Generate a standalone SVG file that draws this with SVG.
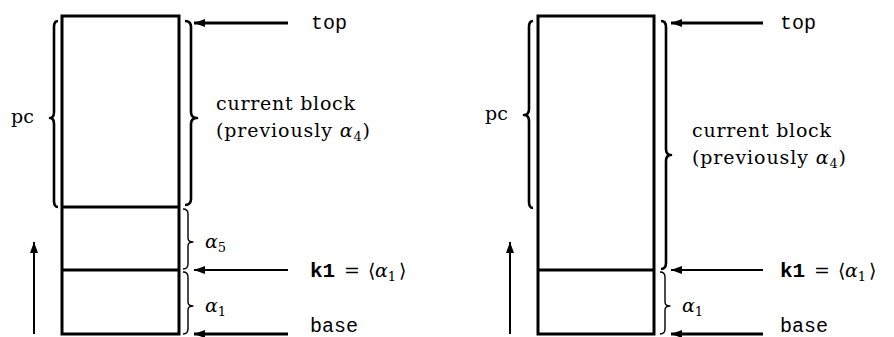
<svg xmlns="http://www.w3.org/2000/svg" width="894" height="337" viewBox="0 0 894 337">
<style>
.box{fill:none;stroke:#000;stroke-width:3}
.div{stroke:#000;stroke-width:3}
.br{fill:none;stroke:#000;stroke-width:2.6;stroke-linejoin:round}
.brs{fill:none;stroke:#000;stroke-width:1.4;stroke-linejoin:round}
.ar{stroke:#000;fill:none}
.rm{font-family:"DejaVu Serif","Liberation Serif",serif;font-size:19px;fill:#000}
.it{font-family:"DejaVu Serif","Liberation Serif",serif;font-style:italic;font-size:19px;fill:#000}
.tt{font-family:"Liberation Mono","DejaVu Sans Mono",monospace;font-size:20px;fill:#000}
.ttb{font-family:"Liberation Mono","DejaVu Sans Mono",monospace;font-size:21px;font-weight:bold;fill:#000}
.sub{font-size:13px;font-style:normal}
</style>
<defs>
<marker id="ah" markerWidth="12" markerHeight="10" refX="11" refY="5" orient="auto" markerUnits="userSpaceOnUse">
<path d="M0,1 L11,5 L0,9 Z" fill="#000"/>
</marker>
</defs>

<g id="left-stack">
<rect class="box" x="62" y="16" width="117" height="318"/>
<line class="div" x1="62" y1="207" x2="179" y2="207"/>
<line class="div" x1="62" y1="270" x2="179" y2="270"/>
</g>

<g id="left-pc">
<path class="br" d="M58,21 Q54,21 54,27 L54,112 Q54,118 50,118 Q54,118 54,124 L54,201 Q54,207 58,207"/>
<text class="rm" x="11" y="123">pc</text>
</g>

<g id="left-current">
<path class="br" d="M185,21 Q191,21 191,27 L191,112 Q191,118 197,118 Q191,118 191,124 L191,199 Q191,205 185,205"/>
<text class="rm" x="216" y="110" textLength="139">current block</text>
<text class="rm" x="216" y="137" textLength="154">(previously <tspan class="it">α</tspan><tspan class="it sub" dy="4">4</tspan><tspan dy="-4">)</tspan></text>
</g>

<g id="left-a5">
<path class="brs" d="M183,209 Q188,209 188,214 L188,238 Q188,242 193,242 Q188,242 188,246 L188,264 Q188,269 183,269"/>
<text class="it" x="205" y="248">α<tspan class="sub" dy="4">5</tspan></text>
</g>

<g id="left-a1">
<path class="brs" d="M183,272 Q188,272 188,277 L188,302 Q188,306 193,306 Q188,306 188,310 L188,329 Q188,334 183,334"/>
<text class="it" x="205" y="312">α<tspan class="sub" dy="4">1</tspan></text>
</g>

<g id="left-labels">
<text class="tt" x="311" y="29">top</text>
<text class="rm" y="277"><tspan class="ttb" x="310">k1</tspan><tspan x="344">=</tspan><tspan x="368">⟨</tspan><tspan class="it" x="375">α</tspan><tspan class="it sub" dy="4">1</tspan><tspan x="399" dy="-4">⟩</tspan></text>
<text class="tt" x="310" y="332">base</text>
</g>

<g id="right-stack">
<rect class="box" x="538" y="16" width="116" height="318"/>
<line class="div" x1="538" y1="270" x2="654" y2="270"/>
</g>

<g id="right-pc">
<path class="br" d="M533,21 Q529,21 529,27 L529,109 Q529,115 524,115 Q529,115 529,121 L529,202 Q529,208 533,208"/>
<text class="rm" x="485" y="120">pc</text>
</g>

<g id="right-current">
<path class="br" d="M661,21 Q666,21 666,27 L666,149 Q666,155 671,155 Q666,155 666,161 L666,263 Q666,269 661,269"/>
<text class="rm" x="692" y="137" textLength="139">current block</text>
<text class="rm" x="692" y="164" textLength="154">(previously <tspan class="it">α</tspan><tspan class="it sub" dy="4">4</tspan><tspan dy="-4">)</tspan></text>
</g>

<g id="right-a1">
<path class="brs" d="M660,272 Q665,272 665,277 L665,302 Q665,306 670,306 Q665,306 665,310 L665,329 Q665,334 660,334"/>
<text class="it" x="682" y="312">α<tspan class="sub" dy="4">1</tspan></text>
</g>

<g id="right-labels">
<text class="tt" x="780" y="29">top</text>
<text class="rm" y="277"><tspan class="ttb" x="780">k1</tspan><tspan x="814">=</tspan><tspan x="838">⟨</tspan><tspan class="it" x="845">α</tspan><tspan class="it sub" dy="4">1</tspan><tspan x="869" dy="-4">⟩</tspan></text>
<text class="tt" x="780" y="332">base</text>
</g>

<g id="connectors">
<line class="ar" stroke-width="3" x1="288" y1="23" x2="194" y2="23" marker-end="url(#ah)"/>
<line class="ar" stroke-width="2" x1="288" y1="270" x2="194" y2="270" marker-end="url(#ah)"/>
<line class="ar" stroke-width="3" x1="288" y1="334" x2="194" y2="334" marker-end="url(#ah)"/>
<line class="ar" stroke-width="2" x1="34" y1="334" x2="34" y2="242" marker-end="url(#ah)"/>
<line class="ar" stroke-width="3" x1="763" y1="23" x2="671" y2="23" marker-end="url(#ah)"/>
<line class="ar" stroke-width="2" x1="763" y1="270" x2="671" y2="270" marker-end="url(#ah)"/>
<line class="ar" stroke-width="3" x1="763" y1="334" x2="671" y2="334" marker-end="url(#ah)"/>
<line class="ar" stroke-width="2" x1="510" y1="334" x2="510" y2="242" marker-end="url(#ah)"/>
</g>
</svg>
